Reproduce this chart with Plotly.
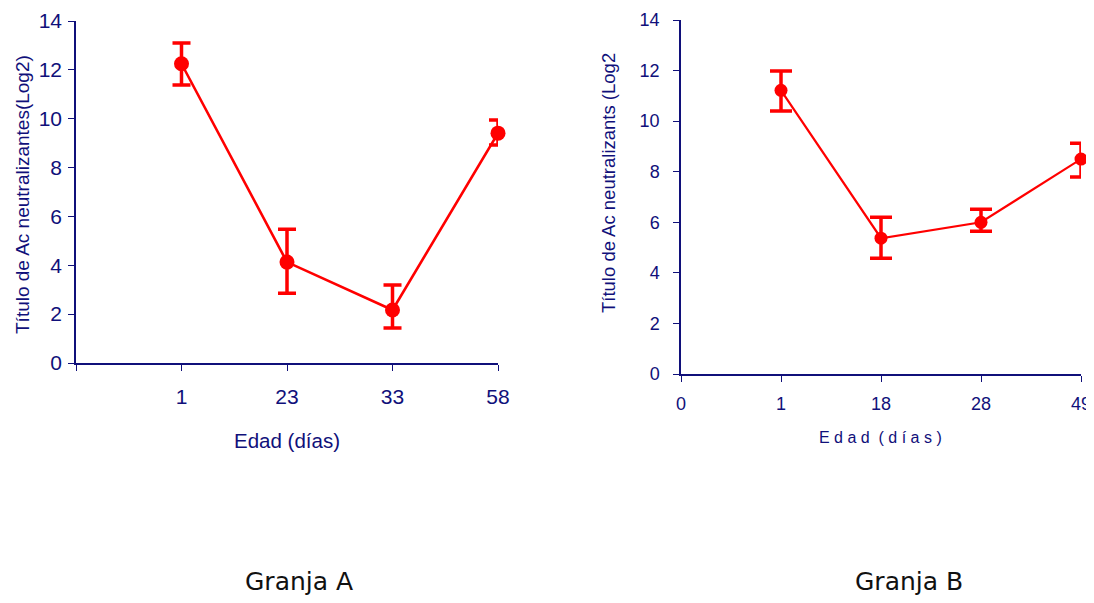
import plotly.graph_objects as go

# Granja A
edad_a = ["1", "23", "33", "58"]
titulo_a = [12.25, 4.13, 2.17, 9.41]
err_a_plus = [0.85, 1.35, 1.02, 0.54]
err_a_minus = [0.87, 1.27, 0.74, 0.49]

# Granja B
edad_b = ["1", "18", "28", "49"]
titulo_b = [11.22, 5.37, 6.0, 8.5]
err_b_plus = [0.76, 0.83, 0.52, 0.63]
err_b_minus = [0.82, 0.79, 0.35, 0.71]

y_ticks = [0, 2, 4, 6, 8, 10, 12, 14]

NAVY = "#10107a"
RED = "#ff0000"
OFF = 8  # default page body margin
W, H = 1094 - OFF, 603 - 2 * OFF

fig = go.Figure()

pos = [1, 2, 3, 4]

fig.add_trace(go.Scatter(
    x=pos, y=titulo_a, mode="lines+markers",
    line=dict(color=RED, width=2.6),
    marker=dict(color=RED, size=15),
    error_y=dict(type="data", symmetric=False, array=err_a_plus, arrayminus=err_a_minus,
                 color=RED, thickness=3.5, width=9),
    xaxis="x", yaxis="y", cliponaxis=False, showlegend=False))

fig.add_trace(go.Scatter(
    x=pos, y=titulo_b, mode="lines+markers",
    line=dict(color=RED, width=2.2),
    marker=dict(color=RED, size=13),
    error_y=dict(type="data", symmetric=False, array=err_b_plus, arrayminus=err_b_minus,
                 color=RED, thickness=3.5, width=11),
    xaxis="x2", yaxis="y2", cliponaxis=False, showlegend=False))

def px_x(p):
    return (p - OFF) / W

def px_y(p):
    return 1 - (p - OFF) / H

axis_common = dict(showgrid=False, zeroline=False, showline=True, linecolor=NAVY,
                   linewidth=1.5, ticks="outside", tickcolor=NAVY, tickwidth=1.2,
                   fixedrange=True, automargin=False, ticklabeloverflow="allow")

fig.update_layout(
    template="none",
    width=W, height=H,
    margin=dict(l=0, r=0, t=0, b=0, pad=0, autoexpand=False),
    paper_bgcolor="white", plot_bgcolor="white",
    font=dict(family="Liberation Sans, Arial, sans-serif", color=NAVY),
    xaxis=dict(domain=[px_x(76), px_x(498)], range=[0, 4],
               tickvals=[0] + pos, ticktext=[""] + edad_a,
               ticklen=6, ticklabelstandoff=8,
               tickfont=dict(size=21, color=NAVY),
               anchor="y", **axis_common),
    yaxis=dict(domain=[px_y(363), px_y(21)], range=[0, 14],
               tickvals=y_ticks, ticklen=6, ticklabelstandoff=2,
               tickfont=dict(size=21, color=NAVY),
               anchor="x", **axis_common),
    xaxis2=dict(domain=[px_x(681), px_x(1081)], range=[0, 4],
                tickvals=[0] + pos, ticktext=["0"] + edad_b,
                ticklen=6, ticklabelstandoff=7,
                tickfont=dict(size=18, color=NAVY),
                anchor="y2", **axis_common),
    yaxis2=dict(domain=[px_y(374), px_y(20)], range=[0, 14],
                tickvals=y_ticks, ticklen=6, ticklabelstandoff=10,
                tickfont=dict(size=18, color=NAVY),
                anchor="x2", **axis_common),
)

ann = [
    dict(text="Título de Ac neutralizantes(Log2)", x=px_x(22), y=px_y(195), textangle=-90,
         font=dict(size=19, color=NAVY)),
    dict(text="Edad (días)", x=px_x(287), y=px_y(440), font=dict(size=20.5, color=NAVY)),
    dict(text="Título de Ac neutralizants (Log2", x=px_x(608), y=px_y(183), textangle=-90,
         font=dict(size=18.5, color=NAVY)),
    dict(text="E d a d  ( d í a s )", x=px_x(880), y=px_y(437), font=dict(size=16, color=NAVY)),
    dict(text="Granja A", x=px_x(299), y=px_y(581),
         font=dict(size=25, color="#111111", family="DejaVu Sans, Verdana, sans-serif")),
    dict(text="Granja B", x=px_x(909), y=px_y(581),
         font=dict(size=25, color="#111111", family="DejaVu Sans, Verdana, sans-serif")),
]
for a in ann:
    a.update(xref="paper", yref="paper", showarrow=False, xanchor="center", yanchor="middle")
    fig.add_annotation(**a)

fig.write_html("out.html")
